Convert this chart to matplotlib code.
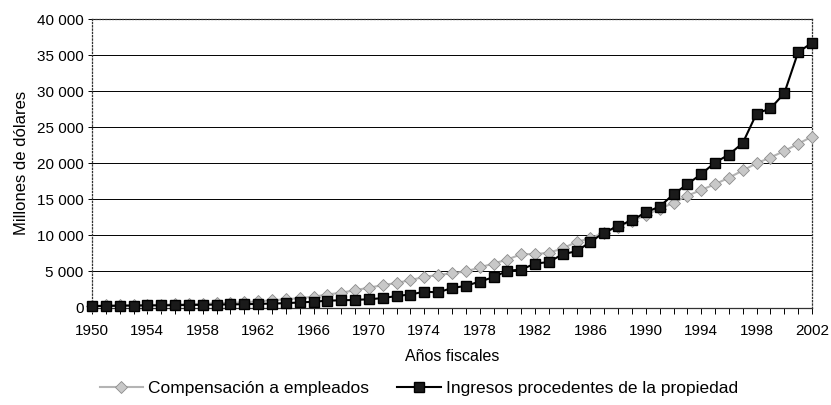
import matplotlib.pyplot as plt
from matplotlib.ticker import FuncFormatter, MultipleLocator, FixedLocator

plt.rcParams['font.family'] = ['Liberation Sans', 'DejaVu Sans']

years = list(range(1950, 2003))
year_ticks = list(range(1950, 2003, 4))

# Compensación a empleados (millones de dólares)
compensacion = [250, 280, 300, 330, 350, 380, 420, 470, 520, 580,
                650, 720, 850, 1000, 1150, 1300, 1500, 1800, 2050, 2400,
                2750, 3100, 3400, 3800, 4250, 4500, 4750, 5000, 5550, 6100,
                6650, 7400, 7400, 7600, 8200, 9100, 9600, 10400, 11200, 12000,
                12800, 13700, 14500, 15500, 16300, 17100, 18000, 19000, 20000, 20800,
                21700, 22700, 23700]

# Ingresos procedentes de la propiedad (millones de dólares)
ingresos = [200, 220, 250, 270, 290, 300, 320, 350, 380, 400,
            430, 460, 500, 550, 600, 700, 800, 950, 1000, 1050,
            1150, 1300, 1600, 1800, 2200, 2100, 2700, 3000, 3600, 4200,
            5100, 5250, 6100, 6300, 7400, 7800, 9100, 10400, 11300, 12100,
            13200, 14000, 15700, 17100, 18500, 20100, 21200, 22800, 26900, 27600,
            29700, 35400, 36700]

fig = plt.figure(figsize=(8.31, 4.05), dpi=100)
ax = fig.add_axes([0.1107, 0.2407, 0.8664, 0.7123])

ax.plot(years, compensacion, color='#b4b4b4', lw=1.5, marker='D', markersize=6.5,
        markerfacecolor='#c8c8c8', markeredgecolor='#8c8c8c', markeredgewidth=0.6,
        label='Compensación a empleados', zorder=3, clip_on=False)
ax.plot(years, ingresos, color='black', lw=1.5, marker='s', markersize=7,
        markerfacecolor='#1a1a1a', markeredgecolor='black',
        label='Ingresos procedentes de la propiedad', zorder=4, clip_on=False)

ax.set_xlim(1950, 2002)
ax.set_ylim(0, 40000)
ax.yaxis.set_major_locator(MultipleLocator(5000))
ax.xaxis.set_major_locator(FixedLocator(year_ticks))
ax.xaxis.set_minor_locator(MultipleLocator(1))
ax.yaxis.set_major_formatter(FuncFormatter(lambda v, p: '{:,.0f}'.format(v).replace(',', ' ')))

ax.grid(axis='y', color='black', lw=0.7)
for s in ax.spines.values():
    s.set_linestyle(':')
    s.set_linewidth(0.9)
    s.set_color('#333333')
ax.spines['bottom'].set_linestyle('-')

ax.tick_params(axis='both', labelsize=11, color='black')
ax.tick_params(axis='x', which='both', direction='out', length=4, width=0.7, pad=8)
ax.tick_params(axis='y', length=3, width=0.7, pad=3)

ax.set_xlabel('Años fiscales', fontsize=11.5, labelpad=8)
ax.set_ylabel('Millones de dólares', fontsize=12, labelpad=6)

fig.legend(loc='center', bbox_to_anchor=(0.504, 1 - 388 / 405), ncol=2, frameon=False,
           fontsize=12.5, handlelength=2.5, columnspacing=1.6, handletextpad=0.3)

fig.savefig('out.png', dpi=100)
